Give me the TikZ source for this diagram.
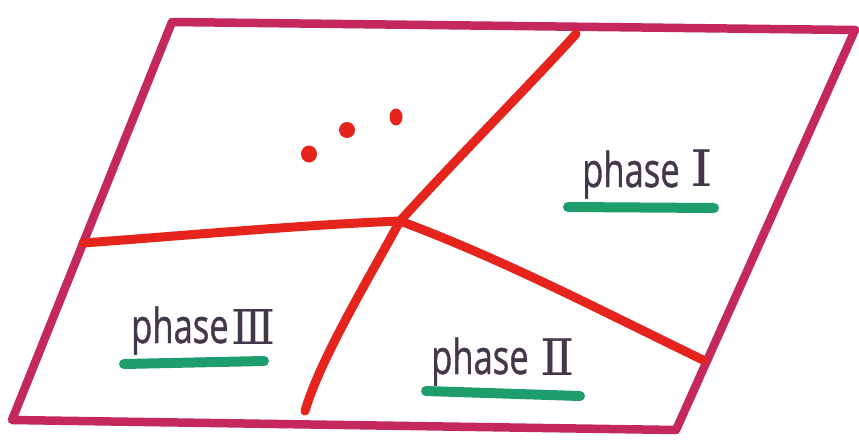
\documentclass[tikz,border=0pt]{standalone}
\usepackage{fontspec}
\setmainfont{Open Sans}
\newfontfamily\numfont{DejaVu Serif}
\definecolor{frame}{HTML}{C4285C}
\definecolor{phasered}{HTML}{E5241E}
\definecolor{ugreen}{HTML}{1E9E6C}
\definecolor{ink}{HTML}{43374A}
\tikzset{
  framestyle/.style={draw=frame, line width=8.5pt, line join=round, line cap=round},
  boundary/.style={draw=phasered, line width=9pt, line cap=round},
  uline/.style={draw=ugreen, line width=10pt, line cap=round},
  label/.style={anchor=base west, inner sep=0pt, text=ink, font=\fontsize{48}{48}\selectfont\addfontfeature{FakeBold=1}},
  dotstyle/.style={fill=phasered, draw=none}
}
\begin{document}
\begin{tikzpicture}[x=1pt,y=-1pt]
\useasboundingbox (0,0) rectangle (859,442);
% frame corners
\coordinate (tl) at (172,22);
\coordinate (tr) at (855,30);
\coordinate (br) at (676,430);
\coordinate (bl) at (12,420);
\draw[framestyle] (tl) -- (tr) -- (br) -- (bl) -- cycle;
% phase boundaries
\coordinate (J) at (400,221);
\coordinate (eT) at (576,34);
\coordinate (eL) at (83,243);
\coordinate (eB) at (305,411);
\coordinate (eR) at (703,360);
\draw[boundary] (J) .. controls (460,155) and (525,90) .. (eT);
\draw[boundary] (J) .. controls (300,225) and (180,236) .. (eL);
\draw[boundary] (J) .. controls (365,285) and (320,360) .. (eB);
\draw[boundary] (J) .. controls (500,258) and (600,310) .. (eR);
% dots
\fill[dotstyle] (309,154) ellipse (8 and 8.5);
\fill[dotstyle] (347,130) ellipse (8 and 8);
\fill[dotstyle] (396,117) ellipse (6.5 and 8.5);
% labels
\node[label] (p1) at (582,187) {\scalebox{0.72}[1]{phase}};
\node[label] (n1) at (690,186) {\scalebox{1.2}[1.05]{\numfont Ⅰ}};
\coordinate (u1a) at (568,207);
\coordinate (u1b) at (714,208);
\draw[uline] (u1a) -- (u1b);
\node[label] (p3) at (131,343) {\scalebox{0.72}[1]{phase}};
\node[label] (n3) at (231,344) {\scalebox{0.95}[1.0]{\numfont Ⅲ}};
\coordinate (u3a) at (124,364);
\coordinate (u3b) at (264,361);
\draw[uline] (u3a) -- (u3b);
\node[label] (p2) at (431,374) {\scalebox{0.72}[1]{phase}};
\node[label] (n2) at (540,375) {\scalebox{1.05}[1.05]{\numfont Ⅱ}};
\coordinate (u2a) at (426,391);
\coordinate (u2b) at (580,396);
\draw[uline] (u2a) -- (u2b);
\end{tikzpicture}
\end{document}
